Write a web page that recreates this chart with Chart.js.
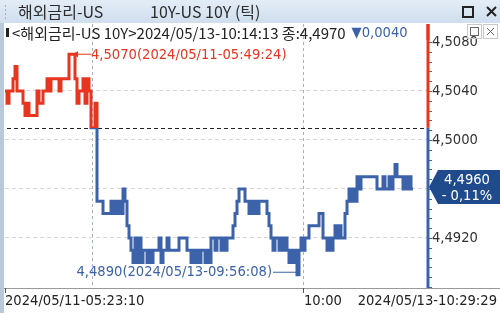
<!DOCTYPE html>
<html>
<head>
<meta charset="utf-8">
<script src="https://cdn.jsdelivr.net/npm/chart.js@4.4.1/dist/chart.umd.min.js"></script>
<style>
  body { margin: 0; background: #fff; }
  canvas { display: block; }
</style>
</head>
<body>
<canvas id="tickChart" width="500" height="313"></canvas>
<script>
// tick values, US 10Y (05/11 session then 05/13 session)
const tickValues = [
  4.504, 4.503, 4.504, 4.504, 4.505, 4.506, 4.504, 4.504, 4.504, 4.503,
  4.502, 4.503, 4.502, 4.502, 4.502, 4.502, 4.504, 4.503, 4.503, 4.504,
  4.504, 4.505, 4.504, 4.505, 4.505, 4.505, 4.505, 4.504, 4.505, 4.505,
  4.505, 4.505, 4.507, 4.507, 4.507, 4.505, 4.503, 4.504, 4.504, 4.505,
  4.503, 4.505, 4.504, 4.501, 4.501, 4.503, 4.495, 4.495, 4.495, 4.494,
  4.494, 4.494, 4.494, 4.495, 4.494, 4.495, 4.494, 4.495, 4.494, 4.496,
  4.495, 4.493, 4.492, 4.491, 4.490, 4.492, 4.490, 4.492, 4.490, 4.491,
  4.491, 4.490, 4.491, 4.490, 4.491, 4.491, 4.491, 4.492, 4.490, 4.491,
  4.491, 4.492, 4.491, 4.491, 4.491, 4.491, 4.491, 4.492, 4.492, 4.492,
  4.492, 4.491, 4.491, 4.490, 4.491, 4.490, 4.491, 4.490, 4.491, 4.491,
  4.490, 4.491, 4.490, 4.492, 4.492, 4.491, 4.492, 4.492, 4.491, 4.492,
  4.491, 4.492, 4.492, 4.492, 4.493, 4.494, 4.495, 4.496, 4.496, 4.496,
  4.495, 4.495, 4.494, 4.495, 4.494, 4.495, 4.494, 4.495, 4.495, 4.495,
  4.495, 4.494, 4.493, 4.492, 4.491, 4.492, 4.492, 4.491, 4.492, 4.491,
  4.492, 4.491, 4.490, 4.491, 4.490, 4.491, 4.489, 4.491, 4.492, 4.491,
  4.492, 4.492, 4.493, 4.493, 4.493, 4.493, 4.493, 4.494, 4.494, 4.492,
  4.492, 4.491, 4.492, 4.491, 4.492, 4.493, 4.492, 4.493, 4.492, 4.492,
  4.494, 4.495, 4.496, 4.495, 4.496, 4.495, 4.497, 4.496, 4.497, 4.497,
  4.497, 4.497, 4.497, 4.497, 4.497, 4.497, 4.496, 4.496, 4.496, 4.497,
  4.496, 4.496, 4.497, 4.496, 4.497, 4.498, 4.497, 4.497, 4.497, 4.496,
  4.497, 4.496, 4.497, 4.496, 4.496
];
const prevClose = 4.5010;
const yTickValues = [4.5080, 4.5040, 4.5000, 4.4960, 4.4920];
const xLabels = ["2024/05/11-05:23:10", "10:00", "2024/05/13-10:29:29"];
const sessionBreakIdx = 43.5;   // 05/11 -> 05/13
const tenOclockIdx = 149;
const maxIdx = 33, maxLabel = "4,5070(2024/05/11-05:49:24)";
const minIdx = 146, minLabel = "4,4890(2024/05/13-09:56:08)";
const lastValue = "4,4960", lastChange = "- 0,11%";
const titleLeft = "해외금리-US", titleRight = "10Y-US 10Y (틱)";
const infoText = "<해외금리-US 10Y>2024/05/13-10:14:13 종:4,4970";
const infoChange = "▼0,0040";

const RED = "#e8351f";
const BLUE = "#3c62aa";
const NUM_FONT = '14.6px "DejaVu Sans Condensed", "Noto Sans CJK KR", sans-serif';
const KO_FONT = '15px "Noto Sans CJK KR", "DejaVu Sans Condensed", sans-serif';

const fmt = v => v.toFixed(4).replace(".", ",");

function splitColor(chart) {
  const { ctx, chartArea, scales } = chart;
  if (!chartArea) return BLUE;
  const yRef = scales.y.getPixelForValue(prevClose);
  const t = (yRef - chartArea.top) / (chartArea.bottom - chartArea.top);
  const g = ctx.createLinearGradient(0, chartArea.top, 0, chartArea.bottom);
  g.addColorStop(0, RED); g.addColorStop(t, RED);
  g.addColorStop(t, BLUE); g.addColorStop(1, BLUE);
  return g;
}

const decor = {
  id: "decor",
  beforeDraw(chart) {
    const c = chart.ctx;
    c.save();
    c.fillStyle = "#fff";
    c.fillRect(0, 0, chart.width, chart.height);
    c.restore();
  },
  beforeDatasetsDraw(chart) {
    const c = chart.ctx, a = chart.chartArea, x = chart.scales.x, y = chart.scales.y;
    c.save();
    // vertical dashed lines
    c.strokeStyle = "#a9b0c4";
    c.lineWidth = 1;
    c.setLineDash([3, 3]);
    [sessionBreakIdx, tenOclockIdx].forEach(i => {
      const px = Math.round(x.getPixelForValue(i)) + 0.5;
      c.beginPath(); c.moveTo(px, a.top); c.lineTo(px, a.bottom); c.stroke();
    });
    // previous close dashed line
    c.strokeStyle = "#222";
    c.setLineDash([4, 3]);
    const yr = Math.round(y.getPixelForValue(prevClose)) + 0.5;
    c.beginPath(); c.moveTo(0, yr); c.lineTo(a.right, yr); c.stroke();
    c.restore();
  },
  afterDraw(chart) {
    const c = chart.ctx, a = chart.chartArea, x = chart.scales.x, y = chart.scales.y;
    const W = chart.width, H = chart.height;
    c.save();
    const yRef = y.getPixelForValue(prevClose);

    // right axis line split red / blue
    c.lineWidth = 3;
    c.strokeStyle = RED;
    c.beginPath(); c.moveTo(a.right, a.top); c.lineTo(a.right, yRef); c.stroke();
    c.strokeStyle = BLUE;
    c.beginPath(); c.moveTo(a.right, yRef); c.lineTo(a.right, a.bottom); c.stroke();
    // minor ticks
    c.lineWidth = 1;
    for (let v = 4.5080; v > y.min; v -= 0.0008) {
      const py = Math.round(y.getPixelForValue(v)) + 0.5;
      if (py < a.top) continue;
      c.strokeStyle = py < yRef ? RED : BLUE;
      c.beginPath(); c.moveTo(a.right, py); c.lineTo(a.right + 4, py); c.stroke();
    }

    // x axis
    c.strokeStyle = "#9a9a9a";
    c.beginPath(); c.moveTo(0, a.bottom + 0.5); c.lineTo(W, a.bottom + 0.5); c.stroke();
    c.strokeStyle = "#555";
    [0, tenOclockIdx].forEach(i => {
      const px = Math.round(x.getPixelForValue(i)) + 0.5;
      c.beginPath(); c.moveTo(px, a.bottom); c.lineTo(px, a.bottom + 5); c.stroke();
    });
    c.fillStyle = "#222";
    c.font = NUM_FONT;
    c.textBaseline = "middle";
    const ly = a.bottom + 13;
    c.textAlign = "left";
    c.fillText(xLabels[0], x.getPixelForValue(0), ly);
    c.fillText(xLabels[1], x.getPixelForValue(tenOclockIdx) + 1, ly);
    c.textAlign = "right";
    c.fillText(xLabels[2], W - 3, ly);

    // max annotation
    const mxX = x.getPixelForValue(maxIdx), mxY = y.getPixelForValue(tickValues[maxIdx]);
    c.strokeStyle = RED; c.fillStyle = RED; c.lineWidth = 1;
    c.beginPath(); c.moveTo(mxX + 2, mxY); c.lineTo(mxX + 20, mxY); c.stroke();
    c.beginPath(); c.moveTo(mxX + 1, mxY); c.lineTo(mxX + 7, mxY - 3); c.lineTo(mxX + 7, mxY + 3); c.closePath(); c.fill();
    c.textAlign = "left";
    c.fillText(maxLabel, mxX + 20, mxY + 1);

    // min annotation
    const mnX = x.getPixelForValue(minIdx), mnY = y.getPixelForValue(tickValues[minIdx]);
    c.strokeStyle = BLUE; c.fillStyle = BLUE;
    c.beginPath(); c.moveTo(mnX - 24, mnY - 2.5); c.lineTo(mnX - 1, mnY - 2.5); c.stroke();
    c.textAlign = "right";
    c.fillText(minLabel, mnX - 25, mnY - 3);

    // current value box
    const vy = y.getPixelForValue(4.4960) - 2;
    c.fillStyle = "#1f4b8c";
    c.beginPath();
    c.moveTo(a.right + 1, vy);
    c.lineTo(a.right + 10, vy - 17);
    c.lineTo(W, vy - 17);
    c.lineTo(W, vy + 17);
    c.lineTo(a.right + 10, vy + 17);
    c.closePath(); c.fill();
    c.fillStyle = "#fff";
    c.textAlign = "center";
    c.fillText(lastValue, 467, vy - 7);
    c.fillText(lastChange, 467, vy + 9);

    // title bar
    const g = c.createLinearGradient(0, 0, 0, 23);
    g.addColorStop(0, "#e3edf7"); g.addColorStop(1, "#cfdeed");
    c.fillStyle = g;
    c.fillRect(0, 0, W, 23);
    c.fillStyle = "#b9c9dc";
    c.fillRect(0, 23, 4, H - 23);
    c.fillStyle = "#9fb3ca";
    for (let i = 0; i < 4; i++) c.fillRect(5, 5 + i * 4, 1, 2);
    c.fillStyle = "#2b2b2b";
    c.font = '16px "Noto Sans CJK KR", sans-serif';
    c.textAlign = "left";
    c.fillText(titleLeft, 18, 12);
    c.fillText(titleRight, 150, 12);
    // window buttons
    c.strokeStyle = "#222"; c.lineWidth = 2;
    c.strokeRect(463, 7, 10, 10);
    c.beginPath(); c.moveTo(487, 7); c.lineTo(496, 16); c.moveTo(496, 7); c.lineTo(487, 16); c.stroke();

    // info line
    c.fillStyle = "#222";
    c.fillRect(6, 28, 3, 9);
    c.font = KO_FONT;
    c.fillText(infoText, 12, 33);
    const w = c.measureText(infoText).width;
    c.fillStyle = BLUE;
    c.font = NUM_FONT;
    c.fillText(infoChange, 12 + w + 6, 33);
    // redraw axis top over info text
    c.lineWidth = 3; c.strokeStyle = RED;
    c.beginPath(); c.moveTo(a.right, a.top); c.lineTo(a.right, a.top + 16); c.stroke();
    // panel buttons
    c.fillStyle = "#fff";
    c.fillRect(a.right + 2, a.top, W - a.right - 2, 12);
    c.strokeStyle = "#c8c8c8"; c.lineWidth = 1;
    c.strokeRect(467.5, 24.5, 14, 14);
    c.strokeRect(483.5, 24.5, 14, 14);
    c.strokeStyle = "#666";
    c.strokeRect(470.5, 27.5, 8, 8);
    c.beginPath(); c.moveTo(487, 28); c.lineTo(494, 35); c.moveTo(494, 28); c.lineTo(487, 35); c.stroke();
    c.restore();
  }
};

new Chart(document.getElementById("tickChart"), {
  type: "line",
  data: {
    datasets: [{
      data: tickValues.map((v, i) => ({ x: i, y: v })),
      borderColor: ctx => splitColor(ctx.chart),
      borderWidth: 3,
      stepped: true,
      pointRadius: 0,
      tension: 0,
      fill: false
    }]
  },
  options: {
    responsive: false,
    animation: false,
    devicePixelRatio: 1,
    layout: { padding: { top: 24, left: 5, bottom: 25, right: 0 } },
    plugins: { legend: { display: false }, tooltip: { enabled: false } },
    scales: {
      x: { type: "linear", display: false, min: 0, max: 211.5 },
      y: {
        position: "right",
        min: 4.487918,
        max: 4.509469,
        afterFit: s => { s.width = 72; },
        afterBuildTicks: s => { s.ticks = yTickValues.map(v => ({ value: v })); },
        border: { display: false, dash: [4, 3] },
        grid: {
          color: ctx => (ctx.tick && ctx.tick.value > 4.506 ? "rgba(0,0,0,0)" : "#d6d6d6"),
          tickColor: "rgba(0,0,0,0)",
          tickLength: 4
        },
        ticks: {
          color: "#333",
          padding: 0,
          font: { family: '"DejaVu Sans Condensed", sans-serif', size: 14.6 },
          callback: v => fmt(v)
        }
      }
    }
  },
  plugins: [decor]
});
</script>
</body>
</html>
